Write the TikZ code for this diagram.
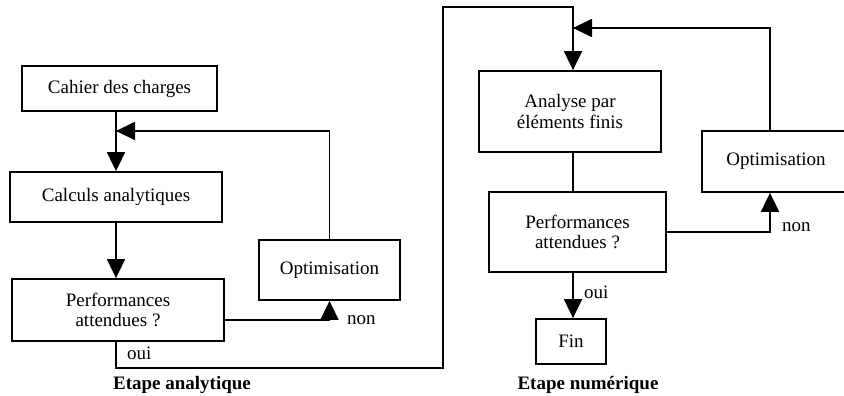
\documentclass[tikz,border=0pt]{standalone}
\usepackage{fontspec}
\setmainfont{Liberation Serif}
\usetikzlibrary{arrows.meta}
\begin{document}
\begin{tikzpicture}[x=1pt,y=-1pt,
  box/.style={draw,line width=1.8pt,rectangle,inner sep=0pt,align=center,font=\fontsize{19}{20.5}\selectfont},
  conn/.style={line width=1.8pt},
  arr/.style={line width=1.8pt,-{Triangle[width=18pt,length=19pt]}},
  lab/.style={font=\fontsize{19}{21}\selectfont,inner sep=0pt},
  ttl/.style={font=\bfseries\fontsize{19}{21}\selectfont,inner sep=0pt}]
\useasboundingbox (0,0) rectangle (844,396);
% left column
\node[box,minimum width=195pt,minimum height=45pt] (cahier) at (119.5,88.5) {Cahier des charges};
\node[box,minimum width=212pt,minimum height=50pt] (calc) at (116,197) {Calculs analytiques};
\node[box,minimum width=212pt,minimum height=62pt] (perfA) at (118,310) {Performances\\attendues ?};
\node[box,minimum width=141pt,minimum height=60pt] (optA) at (329.5,270) {Optimisation};
% right column
\node[box,minimum width=182pt,minimum height=81pt] (fem) at (570,111.5) {Analyse par\\éléments finis};
\node[box,minimum width=177pt,minimum height=80pt] (perfB) at (577.5,232) {Performances\\attendues ?};
\node[box,minimum width=148pt,minimum height=61pt,text width=141pt] (optB) at (776,161.5) {Optimisation};
\node[box,minimum width=70pt,minimum height=45pt] (fin) at (571,341.5) {Fin};
% helper points
\coordinate (jA) at (116,131);
\coordinate (jB) at (573,28);
% left connections
\draw[arr] (cahier.south -| jA) -- (calc.north -| jA);
\draw[conn] (optA.north) |- (jA);
\draw[arr] (optA.north |- jA) -- (jA);
\draw[arr] (calc.south -| jA) -- (perfA.north -| jA);
\draw[arr] (perfA.east |- 0,320) -| (optA.south);
\node[lab,anchor=west] (nonA) at (347,320) {non};
% oui link from left to right
\coordinate (o1) at (116,368);
\coordinate (o2) at (443,368);
\coordinate (o3) at (443,7);
\coordinate (o4) at (573,7);
\draw[conn] (perfA.south -| o1) -- (o1) -- (o2) -- (o3) -- (o4) -- (jB);
\draw[arr] (jB) -- (fem.north -| jB);
\node[lab,anchor=west] (ouiA) at (127,353) {oui};
% right connections
\draw[conn] (optB.north -| 770,0) |- (jB);
\draw[arr] (770,28) -- (jB);
\draw[conn] (fem.south -| jB) -- (perfB.north -| jB);
\draw[arr] (perfB.east |- 0,232) -| (optB.south -| 770,0);
\node[lab,anchor=west] (nonB) at (782,227) {non};
\draw[arr] (perfB.south -| jB) -- (fin.north -| jB);
\node[lab,anchor=west] (ouiB) at (584,292) {oui};
% titles
\node[ttl] (tA) at (182,385) {Etape analytique};
\node[ttl] (tB) at (588,385) {Etape numérique};
\end{tikzpicture}
\end{document}
